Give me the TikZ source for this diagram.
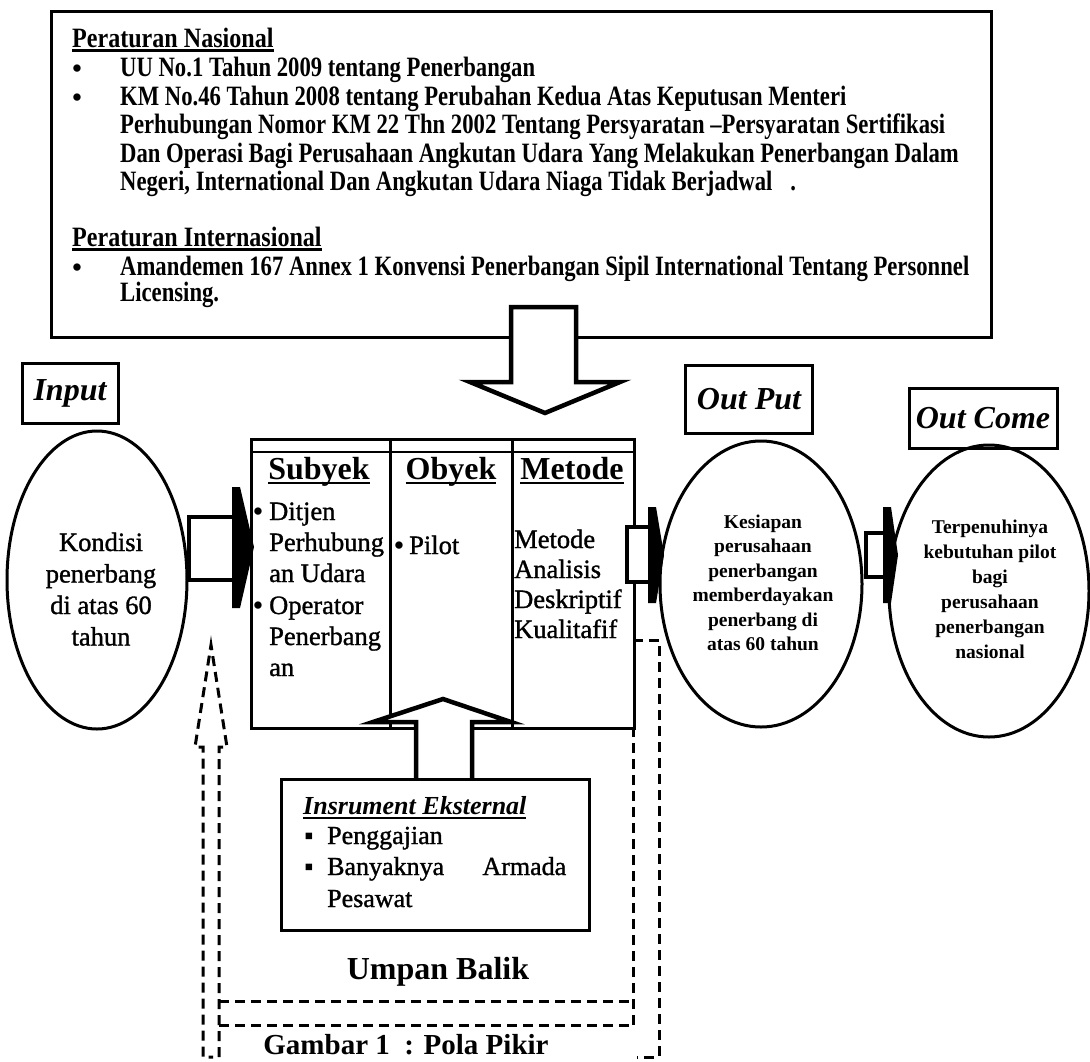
\documentclass[tikz,border=0pt]{standalone}
\usepackage{fontspec}
\usepackage{graphicx}
\setmainfont{Liberation Serif}
\newfontfamily\scanfont[FakeBold=1.2]{Liberation Serif}
\usetikzlibrary{shapes.geometric}
\newcommand\myul[2][4.5pt]{\setbox0\hbox{#2}\rlap{\rule[-#1]{\wd0}{2.5pt}}\box0}
\newcommand\cond[1]{\scalebox{0.81}[1]{#1}}
\newcommand\condh[1]{\scalebox{0.86}[1]{#1}}
\begin{document}
\begin{tikzpicture}[x=1pt,y=-1pt,line join=miter,
  frame/.style={draw,line width=3pt,inner sep=0pt},
  body/.style={anchor=base west,inner sep=0pt,font=\bfseries\fontsize{28}{30}\selectfont},
  bul/.style={anchor=base,inner sep=0pt,font=\bfseries\fontsize{27}{28}\selectfont},
  headtxt/.style={anchor=base west,inner sep=0pt,font=\bfseries\fontsize{28}{30}\selectfont},
  lbl/.style={inner sep=0pt,font=\bfseries\itshape\fontsize{32}{36}\selectfont},
  coltxt/.style={anchor=base west,inner sep=0pt,font=\scanfont\fontsize{26.5}{30}\selectfont},
  colhead/.style={anchor=base,inner sep=0pt,font=\bfseries\fontsize{32}{36}\selectfont},
  ovaltxt/.style={anchor=base,inner sep=0pt,font=\scanfont\fontsize{26.5}{30}\selectfont},
  smalltxt/.style={anchor=base,inner sep=0pt,font=\bfseries\fontsize{19.5}{24}\selectfont},
  insttxt/.style={anchor=base west,inner sep=0pt,font=\scanfont\fontsize{26}{30}\selectfont},
  oval/.style={draw,ellipse,line width=3pt,inner sep=0pt},
  blk/.style={draw,line width=4.5pt,fill=white},
  fb/.style={line width=3pt,dash pattern=on 10pt off 6pt},
]
\useasboundingbox (0,0) rectangle (1090,1061);
\fill[white] (0,0) rectangle (1090,1061);

% ---------- top box ----------
\node[frame,anchor=north west,minimum width=940pt,minimum height=326pt] (reg) at (50,10) {};
\draw[line width=2pt] (50,11.5) -- (990,11.5);
\node[headtxt] (h1) at (72,47) {\myul{\condh{Peraturan Nasional}}};
\node[bul] at (77,77) {•};
\node[body] (l1) at (120,76) {\cond{UU No.1 Tahun 2009 tentang Penerbangan}};
\node[bul] at (77,106) {•};
\node[body] (l2) at (120,105) {\cond{KM No.46 Tahun 2008 tentang Perubahan Kedua Atas Keputusan Menteri}};
\node[body] (l3) at (120,133) {\cond{Perhubungan Nomor KM 22 Thn 2002 Tentang Persyaratan –Persyaratan Sertifikasi}};
\node[body] (l4) at (120,162) {\cond{Dan Operasi Bagi Perusahaan Angkutan Udara Yang Melakukan Penerbangan Dalam}};
\node[body] (l5) at (120,190) {\cond{Negeri, International Dan Angkutan Udara Niaga Tidak Berjadwal\hspace{22pt}.}};
\node[headtxt] (h2) at (72,246) {\myul{\condh{Peraturan Internasional}}};
\node[bul] at (77,276) {•};
\node[body] (l6) at (120,275) {\cond{Amandemen 167 Annex 1 Konvensi Penerbangan Sipil International Tentang Personnel}};
\node[body] (l7) at (120,301) {\cond{Licensing.}};

% big down arrow
\draw[blk] (511,307) -- (576,307) -- (576,382) -- (620,382) -- (545,413) -- (470,382) -- (511,382) -- cycle;

% ---------- labels ----------
\node[frame,minimum width=96pt,minimum height=60pt] (inbox) at (70,393) {};
\node[lbl] at (inbox) {Input};
\node[frame,minimum width=127pt,minimum height=68pt] (outbox) at (749,399) {};
\node[lbl] at (outbox) {Out Put};
\node[frame,minimum width=148pt,minimum height=60pt] (ocbox) at (983,418) {};
\node[lbl] at (ocbox) {Out Come};

% ---------- ellipses ----------
\node[oval,minimum width=180pt,minimum height=298pt] (inell) at (97,580) {};
\foreach \t [count=\i from 0] in {Kondisi,penerbang,di atas 60,tahun}
  \node[ovaltxt] (ie\i) at (101,{551+31.5*\i}) {\t};

\node[oval,minimum width=202pt,minimum height=286pt] (outell) at (761,584) {};
\foreach \t [count=\i from 0] in {Kesiapan,perusahaan,penerbangan,memberdayakan,penerbang di,atas 60 tahun}
  \node[smalltxt] (oe\i) at (763,{528+24.5*\i}) {\t};

\node[oval,minimum width=200pt,minimum height=292pt] (ocell) at (989,591) {};
\foreach \t [count=\i from 0] in {Terpenuhinya,kebutuhan pilot,bagi,perusahaan,penerbangan,nasional}
  \node[smalltxt] (ce\i) at (990,{533+25*\i}) {\t};

% ---------- main box ----------
\node[frame,anchor=north west,minimum width=383pt,minimum height=289pt] (main) at (250,438) {};
\draw[line width=2pt] (250,452) -- (633,452);
\draw[line width=3pt] (390,438) -- (390,727);
\draw[line width=3pt] (512,438) -- (512,727);
\node[colhead] (hs) at (319,479) {\myul[5pt]{Subyek}};
\node[colhead] (ho) at (451,479) {\myul[5pt]{Obyek}};
\node[colhead] (hm) at (572,479) {\myul[5pt]{Metode}};

\node[bul] at (258,520) {•};
\node[coltxt] (s1) at (269,520) {Ditjen};
\node[coltxt] (s2) at (269,551) {Perhubung};
\node[coltxt] (s3) at (269,582) {an Udara};
\node[bul] at (258,614) {•};
\node[coltxt] (s4) at (269,614) {Operator};
\node[coltxt] (s5) at (269,645) {Penerbang};
\node[coltxt] (s6) at (269,676) {an};

\node[bul] at (399,554) {•};
\node[coltxt] (o1) at (409,554) {Pilot};

\node[coltxt] (m1) at (514,548) {Metode};
\node[coltxt] (m2) at (514,578) {Analisis};
\node[coltxt] (m3) at (514,608) {Deskriptif};
\node[coltxt] (m4) at (514,638) {Kualitafif};

% ---------- block arrows ----------
\draw[blk] (189,517) rectangle (236,580);
\fill (232,487) -- (240,487) -- (254,547) -- (240,608) -- (232,608) -- cycle;

\draw[blk] (627,527) rectangle (652,582);
\fill (648,507) -- (656,507) -- (664,555) -- (656,603) -- (648,603) -- cycle;

\draw[blk] (866,533) rectangle (888,577);
\fill (883,507) -- (891,507) -- (898,555) -- (891,603) -- (883,603) -- cycle;

\draw[blk] (416,778) -- (416,722) -- (373,722) -- (443,699) -- (511,722) -- (472,722) -- (472,778);

% ---------- instrument box ----------
\node[frame,anchor=north west,minimum width=308pt,minimum height=151pt] (inst) at (280,778) {};
\node[anchor=base west,inner sep=0pt,font=\bfseries\itshape\fontsize{26}{30}\selectfont] (it) at (303,814) {\myul[5pt]{Insrument Eksternal}};
\node[anchor=base,inner sep=0pt,font=\fontsize{26}{30}\selectfont] at (309,844) {▪};
\node[insttxt] (i1) at (327,844) {Penggajian};
\node[anchor=base,inner sep=0pt,font=\fontsize{26}{30}\selectfont] at (309,875) {▪};
\node[insttxt] (i2) at (327,875) {\makebox[239pt][l]{Banyaknya\hfill Armada}};
\node[insttxt] (i3) at (327,907) {Pesawat};

% ---------- feedback ----------
\node[anchor=base,inner sep=0pt,font=\bfseries\fontsize{32}{36}\selectfont] (ub) at (438,979) {Umpan Balik};
\draw[fb] (633,727) -- (633,1025);
\draw[fb] (633,640) -- (659,640) -- (659,1057) -- (637,1057);
\draw[fb] (219,1001) -- (633,1001);
\draw[fb] (219,1025) -- (633,1025);
\draw[fb] (219,1057) -- (219,747) -- (227,747) -- (211,645) -- (195,747) -- (203,747) -- (203,1057) -- (213,1057);
\node[anchor=base,inner sep=0pt,font=\bfseries\fontsize{29}{33}\selectfont] (cap) at (406,1054) {Gambar 1\enspace: Pola Pikir};
\end{tikzpicture}
\end{document}
